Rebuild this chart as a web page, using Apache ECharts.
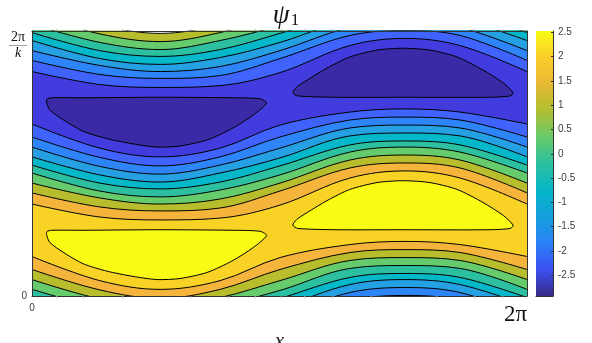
<!DOCTYPE html>
<html>
<head>
<meta charset="utf-8">
<title>psi1</title>
<script src="https://cdn.jsdelivr.net/npm/echarts@6/dist/echarts.min.js"></script>
<style>
html, body { margin: 0; background: #fff; }
#chart { width: 592px; height: 343px; }
</style>
</head>
<body>
<div id="chart"></div>
<script>
// x in units of 2pi, y in units of 2pi/k
var xs = [0, 0.137, 0.259, 0.380, 0.501, 0.642, 0.754, 0.865, 1];
var xTicks = [0.048, 0.103, 0.182, 0.319, 0.396, 0.451, 0.503, 0.549, 0.606, 0.685, 0.816, 0.893, 0.949];
var cbarTicks = [-2.5, -2, -1.5, -1, -0.5, 0, 0.5, 1, 1.5, 2, 2.5];
var cbarRange = [-2.93, 2.53];

// upper family of contours, going down from the top edge
var top15 = [1.100, 1.023, 0.991, 1.025, 1.100, 1.164, 1.175, 1.164, 1.100];
var top10 = [1.062, 0.989, 0.960, 0.994, 1.058, 1.134, 1.145, 1.134, 1.062];
var top05 = [1.025, 0.957, 0.930, 0.964, 1.021, 1.104, 1.115, 1.104, 1.025];
var top00 = [0.994, 0.926, 0.904, 0.930, 0.991, 1.070, 1.085, 1.070, 0.994];
var topM05 = [0.964, 0.896, 0.874, 0.900, 0.957, 1.043, 1.062, 1.043, 0.964];
var topM10 = [0.926, 0.870, 0.847, 0.866, 0.926, 1.013, 1.032, 1.013, 0.926];
var topM15 = [0.889, 0.836, 0.821, 0.832, 0.896, 0.983, 1.002, 0.983, 0.889];
var topM20 = [0.847, 0.798, 0.787, 0.794, 0.843, 0.945, 0.972, 0.945, 0.847];

// middle family
var midM20 = [0.649, 0.558, 0.525, 0.558, 0.645, 0.694, 0.706, 0.694, 0.649];
var midM15 = [0.600, 0.523, 0.491, 0.525, 0.600, 0.664, 0.675, 0.664, 0.600];
var midM10 = [0.562, 0.489, 0.460, 0.494, 0.558, 0.634, 0.645, 0.634, 0.562];
var midM05 = [0.525, 0.457, 0.430, 0.464, 0.521, 0.604, 0.615, 0.604, 0.525];
var mid00 = [0.494, 0.426, 0.404, 0.430, 0.491, 0.570, 0.585, 0.570, 0.494];
var mid05 = [0.464, 0.396, 0.374, 0.400, 0.457, 0.543, 0.562, 0.543, 0.464];
var mid10 = [0.426, 0.370, 0.347, 0.366, 0.426, 0.513, 0.532, 0.513, 0.426];
var mid15 = [0.389, 0.336, 0.321, 0.332, 0.396, 0.483, 0.502, 0.483, 0.389];
var mid20 = [0.347, 0.298, 0.287, 0.294, 0.343, 0.445, 0.472, 0.445, 0.347];

// lower family
var low20 = [0.149, 0.058, 0.025, 0.058, 0.145, 0.194, 0.206, 0.194, 0.149];
var low15 = [0.100, 0.023, -0.009, 0.025, 0.100, 0.164, 0.175, 0.164, 0.100];
var low10 = [0.062, -0.011, -0.040, -0.006, 0.058, 0.134, 0.145, 0.134, 0.062];
var low05 = [0.025, -0.043, -0.070, -0.036, 0.021, 0.104, 0.115, 0.104, 0.025];
var low00 = [-0.006, -0.074, -0.096, -0.070, -0.009, 0.070, 0.085, 0.070, -0.006];
var lowM05 = [-0.036, -0.104, -0.126, -0.100, -0.043, 0.043, 0.062, 0.043, -0.036];
var lowM10 = [-0.074, -0.130, -0.153, -0.134, -0.074, 0.013, 0.032, 0.013, -0.074];
var lowM15 = [-0.111, -0.164, -0.179, -0.168, -0.104, -0.017, 0.002, -0.017, -0.111];

// closed contours at -2.5 and 2.5 as [x, y]
var islandUL = [[0.030,0.743],[0.040,0.748],[0.103,0.748],[0.253,0.750],[0.406,0.748],[0.461,0.744],[0.474,0.728],
  [0.447,0.683],[0.406,0.634],[0.354,0.589],[0.299,0.566],[0.253,0.562],[0.204,0.574],[0.151,0.594],[0.103,0.622],[0.063,0.665],[0.036,0.702],[0.030,0.728]];
var islandUR = [[0.527,0.767],[0.537,0.755],[0.616,0.750],[0.749,0.750],[0.919,0.750],[0.966,0.755],[0.972,0.767],
  [0.952,0.804],[0.911,0.853],[0.859,0.902],[0.804,0.928],[0.749,0.935],[0.697,0.928],[0.642,0.902],[0.596,0.860],[0.556,0.815],[0.535,0.789]];
var islandLL = [[0.030,0.243],[0.040,0.248],[0.103,0.248],[0.253,0.250],[0.406,0.248],[0.461,0.244],[0.474,0.228],
  [0.447,0.183],[0.406,0.134],[0.354,0.089],[0.299,0.066],[0.253,0.062],[0.204,0.074],[0.151,0.094],[0.103,0.122],[0.063,0.165],[0.036,0.202],[0.030,0.228]];
var islandLR = [[0.527,0.267],[0.537,0.255],[0.616,0.250],[0.749,0.250],[0.919,0.250],[0.966,0.255],[0.972,0.267],
  [0.952,0.304],[0.911,0.353],[0.859,0.402],[0.804,0.428],[0.749,0.435],[0.697,0.428],[0.642,0.402],[0.596,0.360],[0.556,0.315],[0.535,0.289]];

var c = {
  dark: '#3b2aa6', b4: '#423bde', b3: '#3f63fc', b2: '#2e85fa', b1: '#25a0e2', cyan: '#05b8c9',
  teal: '#2cc0a0', green: '#65cb6d', olive: '#b8bd2e', orange: '#f5b53c', gold: '#f8d326', yellow: '#f9fb15'
};
var parula = ['#352a87', '#3b50f0', '#2a82f8', '#149fdb', '#05b6c8', '#2cc0a0', '#68ca6a', '#b0bf30', '#e8b935', '#fbcd2c', '#f9fb15'];

// painted in order, each one fills everything below its line
var layers = [
  [top15, c.olive], [top10, c.green], [top05, c.teal], [top00, c.cyan], [topM05, c.b1], [topM10, c.b2], [topM15, c.b3], [topM20, c.b4],
  [midM20, c.b3], [midM15, c.b2], [midM10, c.b1], [midM05, c.cyan], [mid00, c.teal], [mid05, c.green], [mid10, c.olive], [mid15, c.orange], [mid20, c.gold],
  [low20, c.orange], [low15, c.olive], [low10, c.green], [low05, c.teal], [low00, c.cyan], [lowM05, c.b1], [lowM10, c.b2], [lowM15, c.b3]
];

var series = layers.map(function(l) {
  return {
    type: 'line',
    silent: true,
    smooth: 0.35,
    symbol: 'none',
    clip: true,
    data: l[0].map(function(y, i) { return [xs[i], y]; }),
    lineStyle: { color: '#000', width: 1 },
    areaStyle: { color: l[1], opacity: 1, origin: 'start' }
  };
});

function island(points, color) {
  return {
    type: 'custom',
    silent: true,
    z: 3,
    data: [0],
    clip: true,
    renderItem: function(params, api) {
      return {
        type: 'polygon',
        shape: { points: points.map(function(p) { return api.coord(p); }), smooth: 0.25 },
        style: { fill: color, stroke: '#000', lineWidth: 1 }
      };
    }
  };
}
series.push(island(islandUL, c.dark), island(islandUR, c.dark), island(islandLL, c.yellow), island(islandLR, c.yellow));

// colour bar
series.push({
  type: 'line',
  xAxisIndex: 2,
  yAxisIndex: 2,
  silent: true,
  symbol: 'none',
  data: [[0, cbarRange[1]], [1, cbarRange[1]]],
  lineStyle: { width: 0 },
  areaStyle: {
    opacity: 1,
    origin: 'start',
    color: new echarts.graphic.LinearGradient(0, 1, 0, 0, parula.map(function(col, i) {
      return { offset: i / (parula.length - 1), color: col };
    }))
  }
});

var gray = '#404040';
var boxLine = { show: true, onZero: false, lineStyle: { color: '#333', width: 1 } };
var faintTick = { show: true, inside: false, length: 2, lineStyle: { color: '#bbb', width: 1 }, customValues: xTicks };

var chart = echarts.init(document.getElementById('chart'), null, { renderer: 'canvas' });
chart.setOption({
  animation: false,
  backgroundColor: '#fff',
  title: {
    left: 281,
    top: -3,
    textAlign: 'center',
    text: '{p|ψ}{s|1}',
    textStyle: {
      fontWeight: 'normal',
      rich: {
        p: { fontFamily: 'Liberation Serif', fontStyle: 'italic', fontWeight: 'normal', fontSize: 27, color: '#111' },
        s: { fontFamily: 'Liberation Serif', fontWeight: 'normal', fontSize: 17, color: '#111', verticalAlign: 'bottom', padding: [8, 0, 0, 1] }
      }
    }
  },
  grid: [
    { left: 32, top: 31, width: 495, height: 265, outerBoundsMode: 'none', containLabel: false },
    { left: 536, top: 31, width: 17, height: 265, outerBoundsMode: 'none', containLabel: false }
  ],
  xAxis: [
    {
      type: 'value', gridIndex: 0, min: 0, max: 1, position: 'bottom', z: 5,
      name: 'x', nameLocation: 'middle', nameGap: 4,
      nameTextStyle: { fontFamily: 'Liberation Serif', fontStyle: 'italic', fontSize: 21, color: '#222' },
      axisLine: boxLine, axisTick: faintTick, splitLine: { show: false },
      axisLabel: {
        customValues: [0, 1], hideOverlap: false, alignMinLabel: 'center', alignMaxLabel: 'right', margin: 7,
        formatter: function(v) { return v === 0 ? '{z|0}' : '{t|2π}'; },
        rich: {
          z: { fontFamily: 'Liberation Sans', fontSize: 10, color: gray, padding: [0, 0, 10, 0] },
          t: { fontFamily: 'Liberation Serif', fontSize: 23, color: '#111' }
        }
      }
    },
    {
      type: 'value', gridIndex: 0, min: 0, max: 1, position: 'top', z: 5,
      axisLine: boxLine, axisTick: faintTick, axisLabel: { show: false }, splitLine: { show: false }
    },
    {
      type: 'value', gridIndex: 1, min: 0, max: 1, position: 'bottom', z: 5,
      axisLine: boxLine, axisTick: { show: false }, axisLabel: { show: false }, splitLine: { show: false }
    }
  ],
  yAxis: [
    {
      type: 'value', gridIndex: 0, min: 0, max: 1, position: 'left', z: 5,
      name: 'y', nameLocation: 'middle', nameGap: 0, nameRotate: 90,
      nameTextStyle: { fontFamily: 'Liberation Serif', fontStyle: 'italic', fontSize: 21, color: '#222' },
      axisLine: boxLine, axisTick: { show: false }, splitLine: { show: false },
      axisLabel: {
        customValues: [0, 1], margin: 5, verticalAlignMaxLabel: 'top', hideOverlap: false,
        formatter: function(v) { return v === 0 ? '{z|0}' : '{n|2π}\n{b|——}\n{d|k}'; },
        rich: {
          z: { fontFamily: 'Liberation Sans', fontSize: 10, color: gray },
          n: { fontFamily: 'Liberation Serif', fontSize: 14, color: '#111', lineHeight: 12, align: 'center' },
          b: { fontFamily: 'Liberation Serif', fontSize: 9, color: '#111', lineHeight: 3, align: 'center' },
          d: { fontFamily: 'Liberation Serif', fontStyle: 'italic', fontSize: 14, color: '#111', lineHeight: 14, align: 'center' }
        }
      }
    },
    {
      type: 'value', gridIndex: 0, min: 0, max: 1, position: 'right', z: 5,
      axisLine: boxLine, axisTick: { show: false }, axisLabel: { show: false }, splitLine: { show: false }
    },
    {
      type: 'value', gridIndex: 1, min: cbarRange[0], max: cbarRange[1], position: 'right', z: 5,
      axisLine: boxLine, splitLine: { show: false },
      axisTick: { show: true, inside: true, length: 2, lineStyle: { color: '#333' }, customValues: cbarTicks },
      axisLabel: {
        customValues: cbarTicks, margin: 5, hideOverlap: false,
        fontFamily: 'Liberation Sans', fontSize: 10, color: gray,
        formatter: function(v) { return String(v); }
      }
    }
  ],
  series: series
});
</script>
</body>
</html>
